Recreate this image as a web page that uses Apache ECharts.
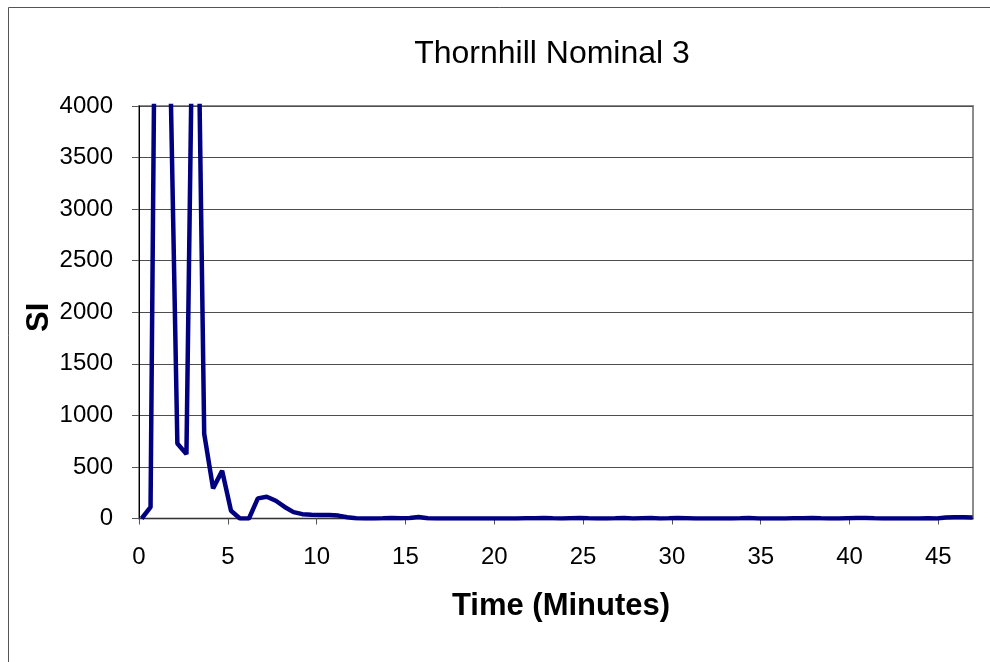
<!DOCTYPE html>
<html>
<head>
<meta charset="utf-8">
<script src="https://cdn.jsdelivr.net/npm/echarts@6/dist/echarts.min.js"></script>
<style>
    html, body { margin: 0; padding: 0; background: #fff; }
    #chart { width: 990px; height: 662px; }
</style>
</head>
<body>
<div id="chart"></div>
<script>
// sample times (minutes)
const times = [
    0.15, 0.65, 1.16, 1.66, 2.16, 2.67, 3.17, 3.67, 4.17, 4.68,
    5.18, 5.68, 6.19, 6.69, 7.19, 7.70, 8.20, 8.70, 9.20, 9.71,
    10.21, 10.71, 11.22, 11.72, 12.22, 12.73, 13.23, 13.73, 14.23, 14.74,
    15.24, 15.74, 16.25, 16.75, 17.25, 17.76, 18.26, 18.76, 19.26, 19.77,
    20.27, 20.77, 21.28, 21.78, 22.28, 22.79, 23.29, 23.79, 24.29, 24.80,
    25.30, 25.80, 26.31, 26.81, 27.31, 27.82, 28.32, 28.82, 29.32, 29.83,
    30.33, 30.83, 31.34, 31.84, 32.34, 32.85, 33.35, 33.85, 34.35, 34.86,
    35.36, 35.86, 36.37, 36.87, 37.37, 37.88, 38.38, 38.88, 39.38, 39.89,
    40.39, 40.89, 41.40, 41.90, 42.40, 42.91, 43.41, 43.91, 44.41, 44.92,
    45.42, 45.92, 46.43, 46.93
];

// SI values (peaks above 4000 are clipped by the axis)
const siValues = [
    0, 110, 10500, 5300, 727, 624, 7000, 824, 292, 462,
    75, 0, 0, 195, 211, 172, 112, 62, 42, 37,
    35, 33, 28, 12, 3, 0, 0, 2, 5, 2,
    5, 15, 3, 0, 0, 1, 0, 0, 0, 0,
    0, 0, 0, 2, 3, 5, 2, 0, 3, 5,
    2, 0, 0, 2, 5, 1, 3, 4, 1, 3,
    5, 3, 0, 0, 1, 0, 0, 2, 5, 1,
    0, 0, 1, 2, 3, 5, 2, 0, 1, 3,
    4, 5, 2, 0, 0, 1, 0, 0, 2, 1,
    10, 11, 11, 10
];

const chartTitle = 'Thornhill Nominal 3';
const xName = 'Time (Minutes)';
const yName = 'SI';

const font = "'Liberation Sans', Arial, sans-serif";

const chart = echarts.init(document.getElementById('chart'));

chart.setOption({
    animation: false,
    backgroundColor: '#fff',
    title: {
        text: chartTitle,
        left: 547,
        top: 33,
        textAlign: 'center',
        textStyle: { color: '#000', fontSize: 32, fontWeight: 'normal', fontFamily: font },
    },
    graphic: [
        {
            type: 'rect',
            silent: true,
            shape: { x: 8.5, y: 7.5, width: 1000, height: 700 },
            style: { fill: 'none', stroke: '#555', lineWidth: 1 },
        },
    ],
    grid: {
        left: 139,
        right: 17,
        top: 106,
        bottom: 143.5,
        show: true,
        borderColor: '#8c8c8c',
        borderWidth: 2,
        backgroundColor: 'transparent',
    },
    xAxis: {
        type: 'value',
        min: 0,
        max: 46.95,
        interval: 5,
        name: xName,
        nameLocation: 'middle',
        nameGap: 72,
        nameTextStyle: {
            color: '#000', fontSize: 31, fontWeight: 'bold', fontFamily: font,
            padding: [0, 0, 0, 10],
        },
        axisLine: { lineStyle: { color: '#333', width: 1 } },
        axisTick: { length: 6, lineStyle: { color: '#555' } },
        axisLabel: { color: '#000', fontSize: 24, fontFamily: font, margin: 27, showMaxLabel: false },
        splitLine: { show: false },
    },
    yAxis: {
        type: 'value',
        min: 0,
        max: 4000,
        interval: 500,
        name: yName,
        nameLocation: 'middle',
        nameGap: 84,
        nameRotate: 90,
        nameMoveOverlap: false,
        nameTextStyle: {
            color: '#000', fontSize: 31, fontWeight: 'bold', fontFamily: font,
            padding: [0, 10, 0, 0],
        },
        axisLine: { show: true, lineStyle: { color: '#000', width: 1 } },
        axisTick: { show: true, length: 7, lineStyle: { color: '#555' } },
        axisLabel: { color: '#000', fontSize: 24, fontFamily: font, margin: 26, formatter: (v) => String(v) },
        splitLine: { lineStyle: { color: '#4d4d4d', width: 1 } },
    },
    series: [
        {
            type: 'line',
            data: times.map((t, i) => [t, siValues[i]]),
            symbol: 'none',
            clip: true,
            lineStyle: { color: '#000080', width: 4.5 },
        },
    ],
});
</script>
</body>
</html>
